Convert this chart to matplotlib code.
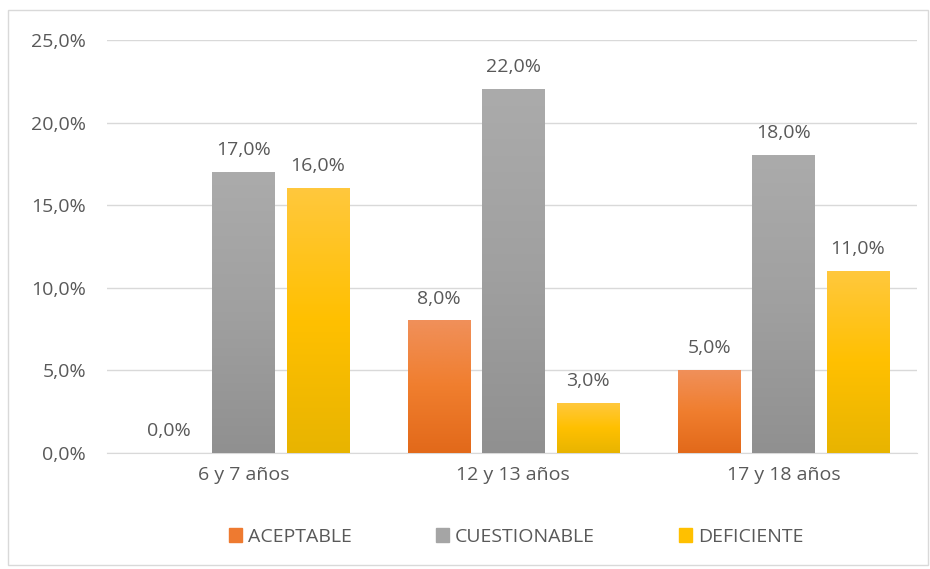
import numpy as np
import matplotlib.pyplot as plt
from matplotlib.colors import LinearSegmentedColormap
from matplotlib.patches import Rectangle
from matplotlib.ticker import FuncFormatter

categories = ["6 y 7 años", "12 y 13 años", "17 y 18 años"]
series = ["ACEPTABLE", "CUESTIONABLE", "DEFICIENTE"]
aceptable = [0.0, 8.0, 5.0]
cuestionable = [17.0, 22.0, 18.0]
deficiente = [16.0, 3.0, 11.0]
values = [aceptable, cuestionable, deficiente]

# gradientes de arriba a abajo
grads = [
    ["#F0905A", "#F07E2E", "#E2691A"],
    ["#ABABAB", "#A0A0A0", "#909090"],
    ["#FFC83D", "#FFC000", "#E8B400"],
]
legend_cols = ["#EE7A30", "#A5A5A5", "#FFC000"]
txt = "#595959"
fs = 14

plt.rcParams['font.family'] = ['Open Sans', 'DejaVu Sans']

fig = plt.figure(figsize=(9.3, 5.69), dpi=100)
ax = fig.add_axes([107 / 930, 1 - 453 / 569, 810 / 930, 413 / 569])

x = np.arange(len(categories))
width = 0.23
offsets = [-0.275, 0, 0.275]

grad = np.linspace(1, 0, 256).reshape(-1, 1)
for vals, off, g in zip(values, offsets, grads):
    cmap = LinearSegmentedColormap.from_list("g", g[::-1])
    bars = ax.bar(x + off, vals, width, color="none", zorder=3)
    for b, v in zip(bars, vals):
        bx, by = b.get_x(), b.get_y()
        bw, bh = b.get_width(), b.get_height()
        if bh > 0:
            ax.imshow(grad, cmap=cmap, aspect="auto", zorder=3,
                      extent=(bx, bx + bw, by, by + bh), vmin=0, vmax=1)
        ax.text(bx + bw / 2, v + 0.8, f"{v:.1f}%".replace(".", ","),
                ha="center", va="bottom", fontsize=fs, color=txt, zorder=4)

ax.set_xlim(-0.505, 2.495)
ax.set_ylim(0, 25)
ax.set_yticks(np.arange(0, 26, 5))
ax.yaxis.set_major_formatter(FuncFormatter(lambda v, p: f"{v:.1f}%".replace(".", ",")))
ax.set_xticks(x)
ax.set_xticklabels(categories)
ax.tick_params(axis="both", length=0, labelsize=fs, labelcolor=txt)
ax.tick_params(axis="y", pad=15)
ax.tick_params(axis="x", pad=9)
ax.grid(axis="y", color="#D9D9D9", linewidth=1, zorder=0)
for s in ["top", "right", "left"]:
    ax.spines[s].set_visible(False)
ax.spines["bottom"].set_color("#D9D9D9")

handles = [Rectangle((0, 0), 1, 1, color=c) for c in legend_cols]
fig.legend(handles, series, loc="center", bbox_to_anchor=(0.555, 1 - 537 / 569),
           ncol=3, frameon=False, fontsize=fs, handlelength=0.7, handleheight=0.7,
           handletextpad=0.3, columnspacing=4.3, labelcolor=txt)

fig.patches.append(Rectangle((8 / 930, 4 / 569), 920 / 930, 555 / 569,
                             transform=fig.transFigure, fill=False,
                             edgecolor="#D9D9D9", linewidth=1))

fig.savefig("out.png", dpi=100)
